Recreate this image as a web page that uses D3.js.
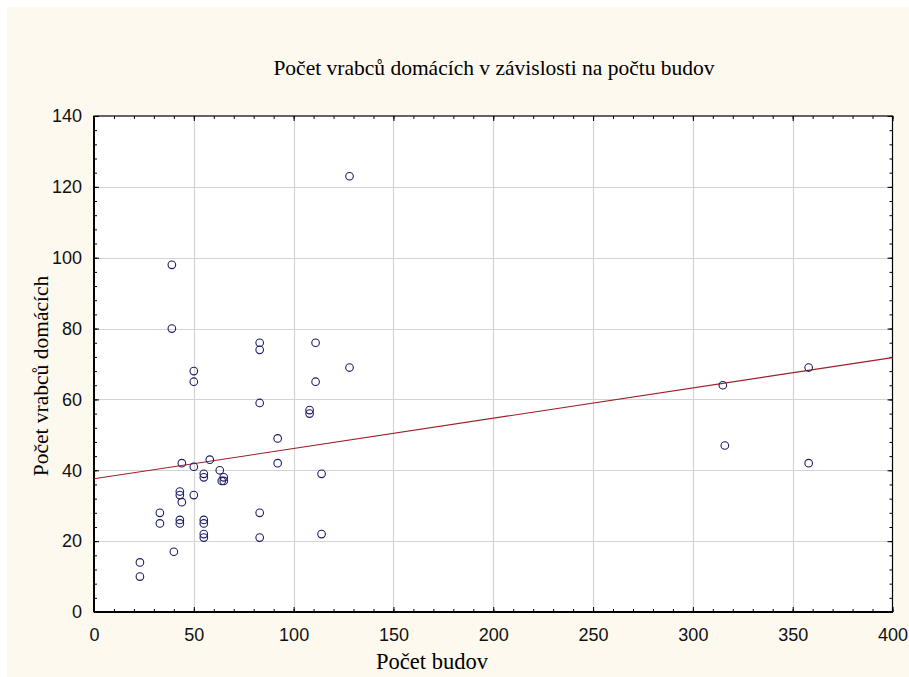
<!DOCTYPE html>
<html><head><meta charset="utf-8">
<script src="https://cdn.jsdelivr.net/npm/d3@7"></script>
<style>
html,body{margin:0;padding:0;background:#fff;}
svg{display:block;}
</style></head>
<body>
<script>
const budovy = [128,39,39,83,83,111,50,50,128,111,83,108,108,92,92,114,83,83,114,23,23,40,33,33,43,43,55,55,55,55,43,43,44,50,44,50,58,55,55,63,64,65,65,315,316,358,358];
const vrabci = [123,98,80,76,74,76,68,65,69,65,59,57,56,49,42,39,28,21,22,14,10,17,28,25,26,25,26,25,22,21,34,33,31,33,42,41,43,39,38,40,37,38,37,64,47,69,42];
const fitX = [0, 400];
const fitY = [37.6, 71.8];
const xTicks = [0,50,100,150,200,250,300,350,400];
const yTicks = [0,20,40,60,80,100,120,140];
const title = "Počet vrabců domácích v závislosti na počtu budov";
const xTitle = "Počet budov";
const yTitle = "Počet vrabců domácích";

const W = 909, H = 677;
const svg = d3.select("body").append("svg").attr("width", W).attr("height", H);
svg.append("rect").attr("x",7).attr("y",7).attr("width",W-7).attr("height",H-7).attr("fill","#fdf9ee");

const L = 94, R = 892.5, T = 116, B = 612;
const x = d3.scaleLinear().domain([0,400]).range([L,R]);
const y = d3.scaleLinear().domain([0,140]).range([B,T]);

svg.append("rect").attr("x",L).attr("y",T).attr("width",R-L).attr("height",B-T).attr("fill","#fff");

// grid
const g = svg.append("g");
g.selectAll(".gx").data(xTicks.slice(1,-1)).join("line")
 .attr("x1",d=>Math.round(x(d))+0.5).attr("x2",d=>Math.round(x(d))+0.5).attr("y1",T).attr("y2",B)
 .attr("stroke","#d4d4d4").attr("stroke-width",1.2);
g.selectAll(".gy").data(yTicks.slice(1,-1)).join("line")
 .attr("y1",d=>Math.round(y(d))+0.5).attr("y2",d=>Math.round(y(d))+0.5).attr("x1",L).attr("x2",R)
 .attr("stroke","#d4d4d4").attr("stroke-width",1.2);

// axes with inward ticks
const fmt = d3.format("d");
function styleAxis(sel){ sel.select(".domain").remove(); sel.selectAll("line").attr("stroke","#000"); }
const xMinor = d3.range(0,401,10), yMinor = d3.range(0,141,4);
const axB = svg.append("g").attr("transform",`translate(0,${B})`)
 .call(d3.axisBottom(x).tickValues(xMinor).tickSize(-3).tickFormat(""));
styleAxis(axB);
const axBm = svg.append("g").attr("transform",`translate(0,${B})`)
 .call(d3.axisBottom(x).tickValues(xTicks).tickSize(-5).tickPadding(16).tickFormat(fmt));
styleAxis(axBm);
axBm.selectAll("text").attr("font-family","'Liberation Sans',Arial,sans-serif").attr("font-size",18).attr("fill","#111");
const axT = svg.append("g").attr("transform",`translate(0,${T})`)
 .call(d3.axisTop(x).tickValues(xMinor).tickSize(-3).tickFormat(""));
styleAxis(axT);
const axTm = svg.append("g").attr("transform",`translate(0,${T})`)
 .call(d3.axisTop(x).tickValues(xTicks).tickSize(-5).tickFormat(""));
styleAxis(axTm);
const axL = svg.append("g").attr("transform",`translate(${L},0)`)
 .call(d3.axisLeft(y).tickValues(yMinor).tickSize(-3).tickFormat(""));
styleAxis(axL);
const axLm = svg.append("g").attr("transform",`translate(${L},0)`)
 .call(d3.axisLeft(y).tickValues(yTicks).tickSize(-5).tickPadding(12).tickFormat(fmt));
styleAxis(axLm);
axLm.selectAll("text").attr("font-family","'Liberation Sans',Arial,sans-serif").attr("font-size",18).attr("fill","#111");
const axR = svg.append("g").attr("transform",`translate(${R},0)`)
 .call(d3.axisRight(y).tickValues(yMinor).tickSize(-3).tickFormat(""));
styleAxis(axR);
const axRm = svg.append("g").attr("transform",`translate(${R},0)`)
 .call(d3.axisRight(y).tickValues(yTicks).tickSize(-5).tickFormat(""));
styleAxis(axRm);

// frame
svg.append("rect").attr("x",L).attr("y",T).attr("width",R-L).attr("height",B-T)
 .attr("fill","none").attr("stroke","#000").attr("stroke-width",1.2);
svg.append("line").attr("x1",L).attr("x2",R).attr("y1",B).attr("y2",B).attr("stroke","#000").attr("stroke-width",2);
svg.append("line").attr("x1",L).attr("x2",L).attr("y1",T).attr("y2",B).attr("stroke","#000").attr("stroke-width",2);

// regression line
svg.append("line").attr("x1",x(fitX[0])).attr("y1",y(fitY[0])).attr("x2",x(fitX[1])).attr("y2",y(fitY[1]))
 .attr("stroke","#9c1f2a").attr("stroke-width",1.1);

// points
svg.append("g").selectAll("circle").data(budovy.map((b,i)=>[b,vrabci[i]])).join("circle")
 .attr("cx",d=>x(d[0])).attr("cy",d=>y(d[1])).attr("r",3.8)
 .attr("fill","none").attr("stroke","#1c1c6a").attr("stroke-width",1.1);

// titles
svg.append("text").attr("x",494).attr("y",75).attr("text-anchor","middle")
 .attr("font-family","'Liberation Serif','Times New Roman',serif").attr("font-size",21.5).attr("fill","#000").text(title);
svg.append("text").attr("x",432).attr("y",669).attr("text-anchor","middle")
 .attr("font-family","'Liberation Serif','Times New Roman',serif").attr("font-size",22.5).attr("fill","#000").text(xTitle);
svg.append("text").attr("transform","translate(48,376) rotate(-90)").attr("text-anchor","middle")
 .attr("font-family","'Liberation Serif','Times New Roman',serif").attr("font-size",21.5).attr("fill","#000").text(yTitle);
</script>
</body></html>
